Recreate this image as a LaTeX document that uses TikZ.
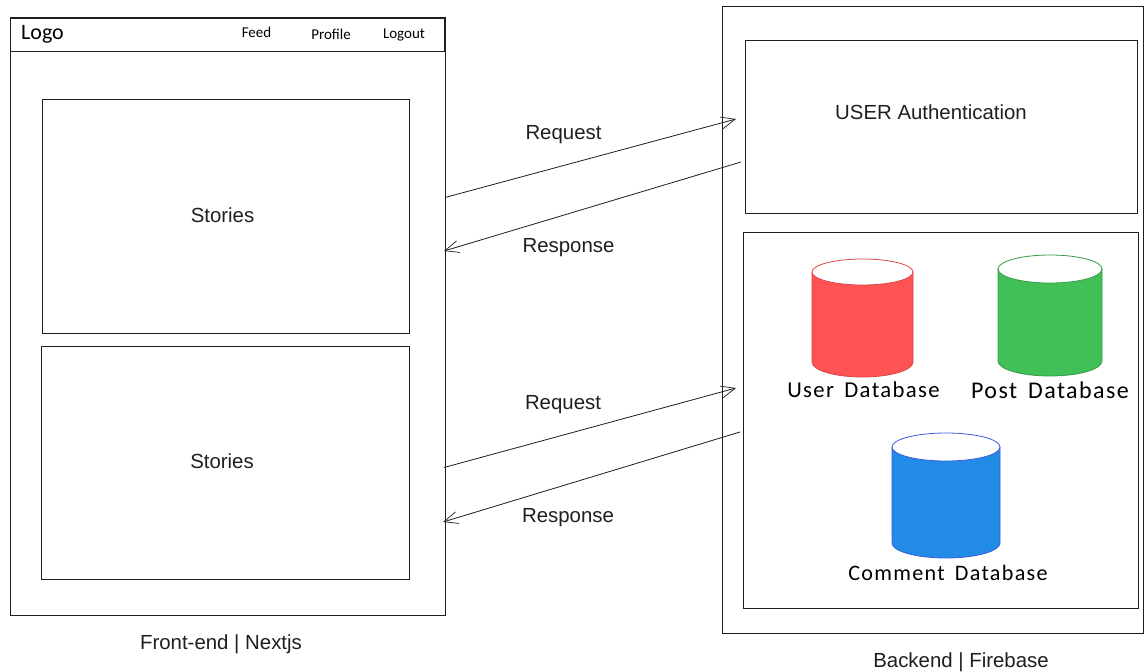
\documentclass[tikz,border=0pt]{standalone}
\usepackage{fontspec}
\setmainfont{Liberation Sans}
\newfontfamily\handfont{Carlito}
\newfontfamily\handwide{Carlito}[LetterSpace=6,WordSpace=1.6]
\usetikzlibrary{arrows.meta}
\definecolor{inkc}{HTML}{1E1E1E}
\definecolor{dbfillr}{HTML}{FF5252}
\definecolor{dbfillg}{HTML}{40C057}
\definecolor{dbfillb}{HTML}{228BE6}
\definecolor{dbstrb}{HTML}{3B5BDB}
\tikzset{
  x=1pt,y=-1pt,
  framebox/.style={draw=inkc,line width=0.8pt,anchor=north west,inner sep=0pt,outer sep=0pt},
  plain/.style={font=\fontsize{20.4}{24}\selectfont,text=black!88,inner sep=0pt},
  hand/.style={font=\handfont\fontsize{#1}{#1}\selectfont,text=black,inner sep=0pt},
  handdb/.style={font=\handwide\fontsize{#1}{#1}\selectfont,text=black,inner sep=0pt},
  wire/.style={draw=inkc,line width=0.8pt,-{Straight Barb[length=14pt,width=12pt,line width=0.7pt]}},
  dbred/.style={fill=dbfillr,draw=dbfillr!85!black},
  dbgreen/.style={fill=dbfillg,draw=dbfillg!80!black},
  dbblue/.style={fill=dbfillb,draw=dbstrb},
}
\newcommand{\dbcyl}[6]{% style, left, right, top, ellipse bottom, bottom
  \pgfmathsetmacro{\cxm}{(#2+#3)/2}\pgfmathsetmacro{\rxm}{(#3-#2)/2}
  \pgfmathsetmacro{\rym}{(#5-#4)/2}\pgfmathsetmacro{\cym}{(#4+#5)/2}
  \path[#1,line width=0.8pt] (#2,\cym) -- (#2,#6-15)
     arc[start angle=180,end angle=0,x radius=\rxm,y radius=15] -- (#3,\cym) -- cycle;
  \path[#1,fill=white,line width=0.8pt] (\cxm,\cym) ellipse [x radius=\rxm, y radius=\rym];
}
\begin{document}
\begin{tikzpicture}
\useasboundingbox (0,0) rectangle (1144,672);
\fill[white] (0,0) rectangle (1144,672);
% front-end
\node[framebox,minimum width=435pt,minimum height=598pt] (front) at (10,17) {};
\node[framebox,minimum width=434pt,minimum height=33pt] (navbar) at (10,18) {};
\node[framebox,minimum width=367pt,minimum height=234pt] (storyA) at (42,99) {};
\node[framebox,minimum width=368pt,minimum height=233pt] (storyB) at (41,346) {};
\node[hand=22] (logo) at (42.5,34.5) {Logo};
\node[hand=15] (feed) at (256.5,32.5) {Feed};
\node[hand=15] (profile) at (331,34) {Profile};
\node[hand=15] (logout) at (404,34.5) {Logout};
\node[plain] (storyAt) at (222.5,215.5) {Stories};
\node[plain] (storyBt) at (222,461.5) {Stories};
\node[plain] (frontcap) at (221,644) {Front-end | Nextjs};
% back-end
\node[framebox,minimum width=421pt,minimum height=627pt] (back) at (722,6) {};
\node[framebox,minimum width=392pt,minimum height=173pt] (auth) at (745,40) {};
\node[framebox,minimum width=395pt,minimum height=376pt] (dbbox) at (743,232) {};
\node[plain] (autht) at (931,112) {USER Authentication};
\node[plain] (backcap) at (961,662) {Backend | Firebase};
% databases
\dbcyl{dbred}{812}{913}{259}{285}{377}
\dbcyl{dbgreen}{998}{1102}{255}{283}{376}
\dbcyl{dbblue}{892}{1000}{433}{461}{558}
\node[handdb=22.7] (userdb) at (863.5,390) {User Database};
\node[handdb=24] (postdb) at (1050,390) {Post Database};
\node[handdb=22.1] (commentdb) at (948,573) {Comment Database};
% connectors
\coordinate (rqAs) at (445,197.5); \coordinate (rqAe) at (736,119);
\coordinate (rsAs) at (741,162); \coordinate (rsAe) at (444,251);
\coordinate (rqBs) at (444,467.5); \coordinate (rqBe) at (736,388);
\coordinate (rsBs) at (740,432); \coordinate (rsBe) at (443,522);
\draw[wire] (rqAs) -- (rqAe);
\draw[wire] (rsAs) -- (rsAe);
\draw[wire] (rqBs) -- (rqBe);
\draw[wire] (rsBs) -- (rsBe);
\node[plain] (reqA) at (563.5,134.5) {Request};
\node[plain] (resA) at (568.5,247.5) {Response};
\node[plain] (reqB) at (563,404.5) {Request};
\node[plain] (resB) at (568,518) {Response};
\end{tikzpicture}
\end{document}
